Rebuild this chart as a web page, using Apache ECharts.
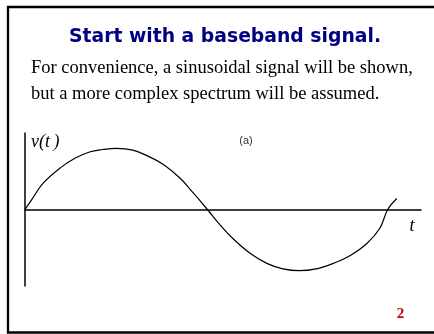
<!DOCTYPE html>
<html>
<head>
<meta charset="utf-8">
<script src="https://cdn.jsdelivr.net/npm/echarts@6/dist/echarts.min.js"></script>
<style>
html,body{margin:0;padding:0;background:#fff;}
#c{width:434px;height:334px;}
</style>
</head>
<body>
<div id="c"></div>
<script>
// Data (t in degrees of the cycle, v normalised to peak = 1)
var tValues = [0, 7, 18, 35, 50, 64, 77, 91, 107, 121, 137, 154, 167, 181, 193, 206, 223, 240, 256, 272, 289, 306, 322, 339, 352, 360, 369];
var vValues = [0, 0.17, 0.43, 0.68, 0.84, 0.94, 0.98, 1.0, 0.97, 0.88, 0.74, 0.51, 0.27, 0, -0.24, -0.47, -0.71, -0.88, -0.97, -1.0, -0.97, -0.88, -0.76, -0.56, -0.31, 0, 0.18];
var titleText = 'Start with a baseband signal.';
var bodyLines = ['For convenience, a sinusoidal signal will be shown,', 'but a more complex spectrum will be assumed.'];
var yLabel = 'v(t\u2009)';
var xLabel = 't';
var panelLabel = '(a)';
var pageNumber = '2';

var points = tValues.map(function (t, i) { return [t, vValues[i]]; });

var chart = echarts.init(document.getElementById('c'), null, {renderer: 'canvas'});
chart.setOption({
  animation: false,
  backgroundColor: '#fff',
  grid: {left: 25, right: 13, top: 133, bottom: 48, containLabel: false},
  xAxis: {
    type: 'value', min: 0, max: 393,
    axisLine: {show: true, onZero: true, lineStyle: {color: '#000', width: 1.5}},
    axisTick: {show: false}, axisLabel: {show: false}, splitLine: {show: false}
  },
  yAxis: {
    type: 'value', min: -1.25, max: 1.25,
    axisLine: {show: true, onZero: false, lineStyle: {color: '#000', width: 1.5}},
    axisTick: {show: false}, axisLabel: {show: false}, splitLine: {show: false}
  },
  series: [{
    type: 'line',
    data: points,
    showSymbol: false,
    smooth: 0.4,
    lineStyle: {color: '#000', width: 1.2}
  }],
  graphic: [
    {type: 'rect', shape: {x: 8, y: 7, width: 440, height: 325.5}, style: {fill: 'none', stroke: '#000', lineWidth: 2.3}, z: 100},
    {type: 'text', x: 225, y: 37.5, style: {text: titleText, font: 'bold 18.8px "DejaVu Sans"', fill: '#000080', verticalAlign: 'middle', align: 'center'}},
    {type: 'text', x: 31, y: 68.5, style: {text: bodyLines[0], font: '18.5px "Liberation Serif"', fill: '#000', verticalAlign: 'middle'}},
    {type: 'text', x: 31, y: 94.5, style: {text: bodyLines[1], font: '18.5px "Liberation Serif"', fill: '#000', verticalAlign: 'middle'}},
    {type: 'text', x: 31, y: 142, style: {text: yLabel, font: 'italic 18px "Liberation Serif"', fill: '#000', verticalAlign: 'middle'}},
    {type: 'text', x: 246, y: 141, style: {text: panelLabel, font: '11px "Liberation Sans"', fill: '#333', verticalAlign: 'middle', align: 'center'}},
    {type: 'text', x: 412, y: 226, style: {text: xLabel, font: 'italic 18px "Liberation Serif"', fill: '#000', verticalAlign: 'middle', align: 'center'}},
    {type: 'text', x: 400.5, y: 314, style: {text: pageNumber, font: 'bold 15px "Liberation Serif"', fill: '#cc0000', verticalAlign: 'middle', align: 'center'}}
  ]
});
</script>
</body>
</html>
